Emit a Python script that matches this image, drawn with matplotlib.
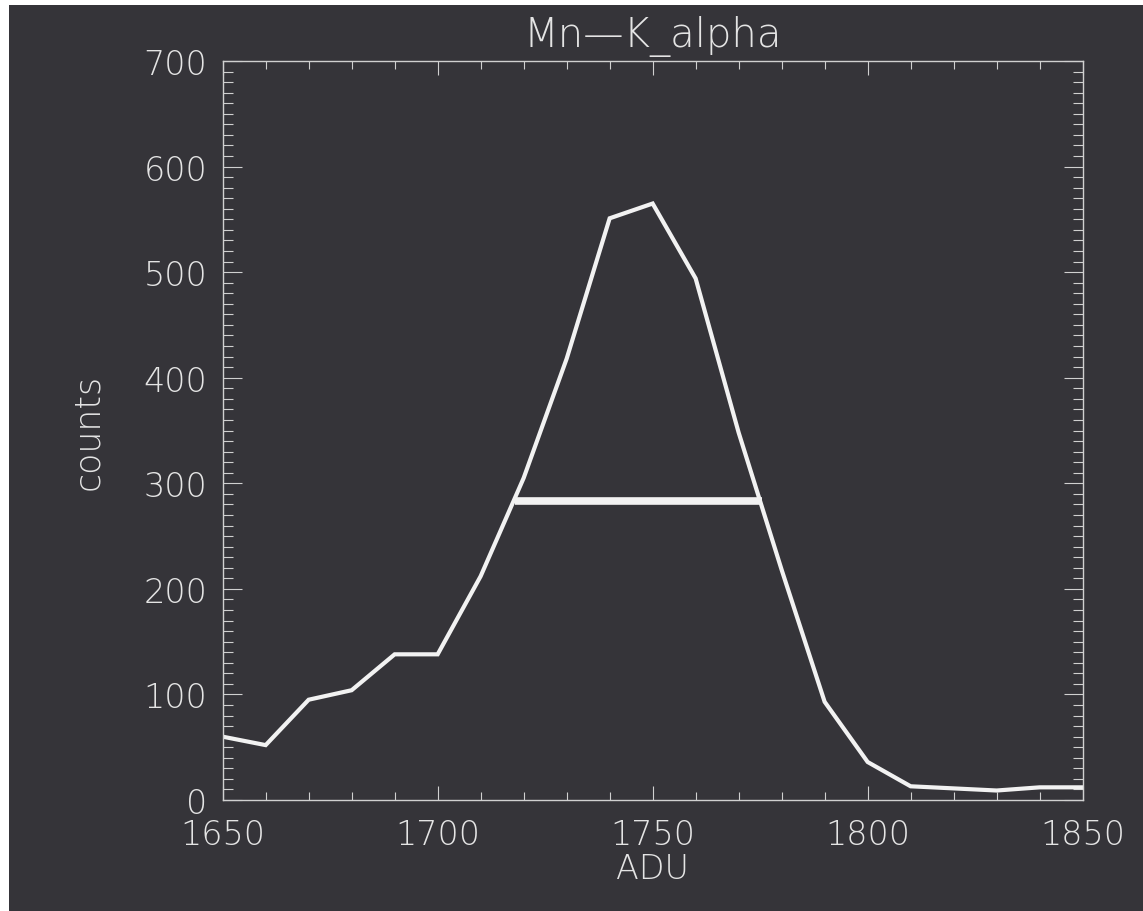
import matplotlib
matplotlib.use('Agg')
import matplotlib.pyplot as plt
from matplotlib.patches import Rectangle
from matplotlib.ticker import MultipleLocator

# istogramma Mn-K_alpha
adu = [1650, 1660, 1670, 1680, 1690, 1700, 1710, 1720, 1730, 1740, 1750,
       1760, 1770, 1780, 1790, 1800, 1810, 1820, 1830, 1840, 1850]
counts = [60, 52, 95, 104, 138, 138, 212, 305, 418, 551, 565,
          494, 348, 218, 93, 36, 13, 11, 9, 12, 12]

# linea FWHM
half_max = 283
fwhm_left = 1718
fwhm_right = 1775.5

bg = '#353439'
fg = '#f2f2f2'
txt = '#e4e4e4'

plt.rcParams['font.family'] = ['DejaVu Sans']
plt.rcParams['font.weight'] = 200

fig = plt.figure(figsize=(11.43, 9.12), dpi=100, facecolor=bg)
# piccolo bordo bianco sopra e a sinistra
fig.patches.append(Rectangle((0, 1 - 6 / 912), 1, 6 / 912, transform=fig.transFigure,
                             facecolor='white', edgecolor='none', zorder=-10))
fig.patches.append(Rectangle((0, 0), 9 / 1143, 1, transform=fig.transFigure,
                             facecolor='white', edgecolor='none', zorder=-10))

ax = fig.add_axes([0.1948, 0.1217, 0.7524, 0.8103])
ax.set_facecolor(bg)

ax.plot(adu, counts, color=fg, linewidth=3.0, solid_joinstyle='miter')
ax.plot([fwhm_left, fwhm_right], [half_max, half_max], color=fg, linewidth=5.5,
        solid_capstyle='butt')

ax.set_xlim(1650, 1850)
ax.set_ylim(0, 700)
ax.xaxis.set_major_locator(MultipleLocator(50))
ax.xaxis.set_minor_locator(MultipleLocator(10))
ax.yaxis.set_major_locator(MultipleLocator(100))
ax.yaxis.set_minor_locator(MultipleLocator(10))

for s in ax.spines.values():
    s.set_color('#d0d0d0')
    s.set_linewidth(1.0)

ax.tick_params(axis='both', which='both', direction='in', top=True, right=True,
               color='#d0d0d0', width=0.8, labelcolor=txt, labelsize=24)
ax.tick_params(axis='x', which='major', length=10, pad=13)
ax.tick_params(axis='x', which='minor', length=5.8)
ax.tick_params(axis='y', which='major', length=13.7, pad=11)
ax.tick_params(axis='y', which='minor', length=7.2)

ax.set_title('Mn\u2014K_alpha', color=txt, fontsize=29, fontweight=200, pad=11)
ax.set_xlabel('ADU', color=txt, fontsize=24, fontweight=200)
ax.set_ylabel('counts', color=txt, fontsize=25, fontweight=200)
ax.xaxis.set_label_coords(0.5, -0.07)
ax.yaxis.set_label_coords(-0.137, 0.5)

fig.savefig('out.png', dpi=100, facecolor=fig.get_facecolor())
